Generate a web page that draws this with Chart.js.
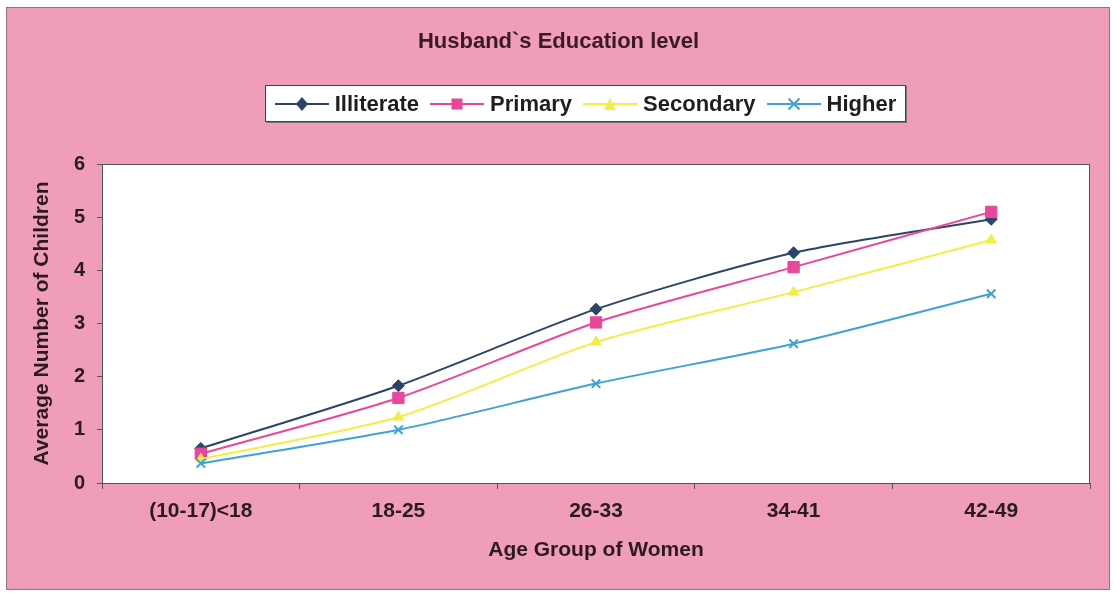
<!DOCTYPE html>
<html>
<head>
<meta charset="utf-8">
<script src="https://cdn.jsdelivr.net/npm/chart.js@4"></script>
<style>
  html, body { margin: 0; padding: 0; background: #fff; }
  #wrap { position: relative; width: 1117px; height: 593px; }
  #chart { position: absolute; left: 0; top: 0; }
  #title {
    position: absolute; left: 0; width: 1117px; top: 28px; line-height: 26px; text-align: center;
    font: bold 22px "Liberation Sans", Arial, sans-serif; color: #3a1a24;
  }
  #legend {
    position: absolute; left: 265px; top: 85px; width: 639px; height: 35px;
    background: #fff; border: 1px solid #444; box-shadow: 1px 1px 0 #777;
    display: flex; align-items: center; justify-content: center; gap: 11px;
    font: bold 22px "Liberation Sans", Arial, sans-serif; color: #1e1e1e;
  }
  #legend .item { display: flex; align-items: center; gap: 6px; }
</style>
</head>
<body>
<div id="wrap">
  <canvas id="chart" width="1117" height="593"></canvas>
  <div id="title">Husband`s Education level</div>
  <div id="legend"></div>
</div>
<script>
// values
const ageGroups = ["(10-17)<18", "18-25", "26-33", "34-41", "42-49"];
const illiterate = [0.65, 1.83, 3.27, 4.33, 4.96];
const primary    = [0.55, 1.60, 3.02, 4.06, 5.10];
const secondary  = [0.45, 1.24, 2.65, 3.59, 4.57];
const higher     = [0.37, 1.00, 1.87, 2.62, 3.56];
const seriesNames = ["Illiterate", "Primary", "Secondary", "Higher"];
const yTicks = [0, 1, 2, 3, 4, 5, 6];

const colors = {
  Illiterate: "#2c4467",
  Primary: "#e9479c",
  Secondary: "#f2ee45",
  Higher: "#3ea2d4"
};
const pink = "#ef9db9";
const textColor = "#2a1a20";
const font = "'Liberation Sans', Arial, sans-serif";

// legend (html), line + marker like the original
const markerSvg = {
  Illiterate: c => `<path d="M27 1 L33 8 L27 15 L21 8 Z" fill="${c}"/>`,
  Primary: c => `<rect x="21.5" y="2.5" width="11" height="11" fill="${c}"/>`,
  Secondary: c => `<path d="M27 2 L33 14 L21 14 Z" fill="${c}"/>`,
  Higher: c => `<path d="M21.5 2.5 L32.5 13.5 M32.5 2.5 L21.5 13.5" stroke="${c}" stroke-width="2"/>`
};
document.getElementById("legend").innerHTML = seriesNames.map(n => {
  const c = colors[n];
  return `<span class="item"><svg width="54" height="16"><line x1="0" y1="8" x2="54" y2="8" stroke="${c}" stroke-width="2"/>${markerSvg[n](c)}</svg>${n}</span>`;
}).join("");

const background = {
  id: "background",
  beforeDraw(chart) {
    const { ctx, chartArea: a } = chart;
    ctx.save();
    ctx.fillStyle = pink;
    ctx.fillRect(6, 7, 1104, 583);
    ctx.strokeStyle = "#8a7a80";
    ctx.lineWidth = 1;
    ctx.strokeRect(6.5, 7.5, 1103, 582);
    ctx.fillStyle = "#fff";
    ctx.fillRect(a.left, a.top, a.right - a.left, a.bottom - a.top);
    ctx.strokeStyle = "#555";
    ctx.strokeRect(a.left + 0.5, a.top + 0.5, a.right - a.left - 1, a.bottom - a.top);
    ctx.restore();
  }
};

function ds(label, data, style, order) {
  return {
    label, data, order,
    borderColor: colors[label],
    backgroundColor: colors[label],
    pointBackgroundColor: colors[label],
    pointBorderColor: colors[label],
    borderWidth: 2,
    pointStyle: style.shape,
    pointRadius: style.r,
    pointBorderWidth: style.bw,
    tension: 0.25,
    fill: false
  };
}

new Chart(document.getElementById("chart"), {
  type: "line",
  data: {
    labels: ageGroups,
    datasets: [
      ds("Illiterate", illiterate, { shape: "rectRot", r: 6, bw: 1 }, 4),
      ds("Primary", primary, { shape: "rect", r: 8, bw: 1 }, 3),
      ds("Secondary", secondary, { shape: "triangle", r: 6, bw: 1 }, 2),
      ds("Higher", higher, { shape: "crossRot", r: 6, bw: 2 }, 1)
    ]
  },
  plugins: [background],
  options: {
    responsive: false,
    animation: false,
    layout: { padding: { top: 164, right: 27, bottom: 0, left: 0 } },
    plugins: { legend: { display: false }, title: { display: false }, tooltip: { enabled: false } },
    scales: {
      x: {
        offset: true,
        afterFit: s => { s.height = 110; },
        grid: { offset: true, drawOnChartArea: false, drawTicks: true, tickLength: 6, color: "#555" },
        border: { display: false },
        ticks: { padding: 10, color: textColor, font: { family: font, size: 21, weight: "bold" } },
        title: {
          display: true, text: "Age Group of Women", color: textColor,
          font: { family: font, size: 21, weight: "bold" }, padding: { top: 0, bottom: 30 }
        }
      },
      y: {
        min: 0, max: 6,
        afterFit: s => { s.width = 102; },
        afterBuildTicks: s => { s.ticks = yTicks.map(v => ({ value: v })); },
        grid: { drawOnChartArea: false, drawTicks: true, tickLength: 5, color: "#555" },
        border: { display: false },
        ticks: { padding: 12, color: textColor, font: { family: font, size: 20, weight: "bold" } },
        title: {
          display: true, text: "Average Number of Children", color: textColor,
          font: { family: font, size: 21, weight: "bold" }, padding: { top: 30, bottom: 0 }
        }
      }
    }
  }
});
</script>
</body>
</html>
